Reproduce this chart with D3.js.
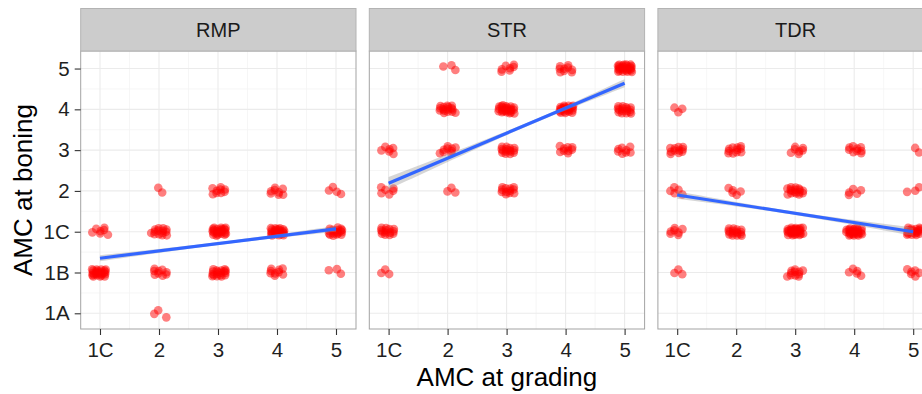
<!DOCTYPE html>
<html>
<head>
<meta charset="utf-8">
<script src="https://cdn.jsdelivr.net/npm/d3@7"></script>
<style>
  body { margin: 0; background: #fff; }
  svg { display: block; }
  text { font-family: "Liberation Sans", Arial, Helvetica, sans-serif; }
</style>
</head>
<body>
<svg id="chart" width="922" height="394"></svg>
<script>
// Facets, axis levels
const facets = ["RMP", "STR", "TDR"];
const gradingLevels = ["1C", "2", "3", "4", "5"];
const boningLevels = ["1A", "1B", "1C", "2", "3", "4", "5"];

// Carcass counts per cell: rows = AMC at boning (1A..5), columns = AMC at grading (1C..5)
const countsRMP = [
  [0, 3, 0, 0, 0],
  [24, 9, 18, 9, 3],
  [7, 14, 24, 24, 18],
  [0, 2, 9, 8, 4],
  [0, 0, 0, 0, 0],
  [0, 0, 0, 0, 0],
  [0, 0, 0, 0, 0]
];
const countsSTR = [
  [0, 0, 0, 0, 0],
  [3, 0, 0, 0, 0],
  [14, 0, 0, 0, 0],
  [6, 3, 12, 0, 0],
  [6, 9, 15, 9, 8],
  [0, 16, 24, 22, 16],
  [0, 3, 7, 9, 26]
];
const countsTDR = [
  [0, 0, 0, 0, 0],
  [3, 0, 11, 5, 6],
  [7, 16, 30, 26, 20],
  [5, 5, 16, 5, 3],
  [11, 11, 7, 9, 2],
  [3, 0, 0, 0, 0],
  [0, 0, 0, 0, 0]
];
const facetCounts = [countsRMP, countsSTR, countsTDR];

// Linear fit of boning on grading (boning scale 1..7), at grading 1C and 5
const fitAtFirst = [2.35, 4.19, 3.90];
const fitAtLast = [3.07, 6.64, 3.00];
// Standard error of the fit at grading 1C, 3 and 5
const seFirst = [0.075, 0.15, 0.09];
const seMid = [0.035, 0.05, 0.04];
const seLast = [0.07, 0.10, 0.10];

// Layout
const panelLeft = 80.7, panelTop = 51;
const panelW = 275.3, panelH = 278, panelStep = 288.6;
const stripTop = 8.5;
const jitterW = 0.27, jitterH = 0.2;

const svg = d3.select("#chart");

const x = d3.scaleLinear().domain([0.673, 5.339]).range([0, panelW]);
const y = d3.scaleLinear().domain([0.615, 7.43]).range([panelH, 0]);

const xMajor = d3.range(1, 6);
const xMinor = d3.range(1.5, 5, 1);
const yMajor = d3.range(1, 8);
const yMinor = d3.range(1.5, 7, 1);

// Quasi-random (R2 sequence) spread used for the jitter of each cell
const phi2 = 1.32471795724474602596;
const r2a = 1 / phi2, r2b = 1 / (phi2 * phi2);
function spread(i) {
  return [((0.5 + r2a * i) % 1) - 0.5, ((0.5 + r2b * i) % 1) - 0.5];
}

facets.forEach((name, fi) => {
  const left = panelLeft + fi * panelStep;
  const g = svg.append("g").attr("transform", `translate(${left},${panelTop})`);

  const clipId = "clip-" + name;
  svg.append("defs").append("clipPath").attr("id", clipId)
    .append("rect").attr("width", panelW).attr("height", panelH);

  g.append("rect").attr("width", panelW).attr("height", panelH).attr("fill", "#fff");

  // grid
  const grid = g.append("g");
  grid.selectAll(".xmin").data(xMinor).join("line")
    .attr("x1", d => x(d)).attr("x2", d => x(d)).attr("y1", 0).attr("y2", panelH)
    .attr("stroke", "#f4f4f4").attr("stroke-width", 0.8);
  grid.selectAll(".ymin").data(yMinor).join("line")
    .attr("y1", d => y(d)).attr("y2", d => y(d)).attr("x1", 0).attr("x2", panelW)
    .attr("stroke", "#f4f4f4").attr("stroke-width", 0.8);
  grid.selectAll(".xmaj").data(xMajor).join("line")
    .attr("x1", d => x(d)).attr("x2", d => x(d)).attr("y1", 0).attr("y2", panelH)
    .attr("stroke", "#ebebeb").attr("stroke-width", 1.1);
  grid.selectAll(".ymaj").data(yMajor).join("line")
    .attr("y1", d => y(d)).attr("y2", d => y(d)).attr("x1", 0).attr("x2", panelW)
    .attr("stroke", "#ebebeb").attr("stroke-width", 1.1);

  const plot = g.append("g").attr("clip-path", `url(#${clipId})`);

  // jittered points
  const pts = [];
  facetCounts[fi].forEach((row, bi) => {
    row.forEach((n, gi) => {
      const seed = (bi * 5 + gi) * 41 + fi * 7;
      for (let k = 0; k < n; k++) {
        const [u, v] = spread(seed + k);
        pts.push({ grading: gi + 1, boning: bi + 1, dx: u * jitterW, dy: v * jitterH });
      }
    });
  });
  plot.append("g").selectAll("circle").data(pts).join("circle")
    .attr("cx", d => x(d.grading + d.dx))
    .attr("cy", d => y(d.boning + d.dy))
    .attr("r", 4.3)
    .attr("fill", "#ff0000")
    .attr("fill-opacity", 0.5);

  // fitted line with standard-error band
  const b0 = fitAtFirst[fi], b1 = fitAtLast[fi];
  const fit = t => b0 + (b1 - b0) * (t - 1) / 4;
  const s1 = seFirst[fi] ** 2, s3 = seMid[fi] ** 2, s5 = seLast[fi] ** 2;
  const se = t => {
    const u = t - 3;
    return Math.sqrt(Math.max(0, s3 + (s5 - s1) / 4 * u + (s5 + s1 - 2 * s3) / 8 * u * u));
  };
  const xs = d3.range(0, 41).map(i => 1 + i * 0.1);
  plot.append("path")
    .datum(xs)
    .attr("d", d3.area().x(t => x(t)).y0(t => y(fit(t) - se(t))).y1(t => y(fit(t) + se(t))))
    .attr("fill", "#999999").attr("fill-opacity", 0.4);
  plot.append("path")
    .datum([1, 5])
    .attr("d", d3.line().x(t => x(t)).y(t => y(fit(t))))
    .attr("stroke", "#3366ff").attr("stroke-width", 3.2).attr("fill", "none");

  // panel border
  g.append("rect").attr("width", panelW).attr("height", panelH)
    .attr("fill", "none").attr("stroke", "#a3a3a3").attr("stroke-width", 1);

  // strip
  const strip = svg.append("g").attr("transform", `translate(${left},${stripTop})`);
  strip.append("rect").attr("width", panelW).attr("height", panelTop - stripTop)
    .attr("fill", "#cccccc").attr("stroke", "#b3b3b3").attr("stroke-width", 1);
  strip.append("text")
    .attr("x", panelW / 2).attr("y", (panelTop - stripTop) / 2)
    .attr("dy", "0.36em")
    .attr("text-anchor", "middle")
    .attr("fill", "#1a1a1a")
    .style("font-size", "20px")
    .text(name);

  // x axis
  const xAxis = d3.axisBottom(x).tickValues(xMajor)
    .tickFormat(d => gradingLevels[d - 1]).tickSize(6).tickPadding(7);
  const xg = g.append("g").attr("transform", `translate(0,${panelH})`).call(xAxis);
  xg.select(".domain").remove();
  xg.selectAll(".tick line").attr("stroke", "#333").attr("stroke-width", 1.1);
  xg.selectAll(".tick text").attr("fill", "#1f1f1f").style("font-size", "20.5px");

  // y axis on the first facet only
  if (fi === 0) {
    const yAxis = d3.axisLeft(y).tickValues(yMajor)
      .tickFormat(d => boningLevels[d - 1]).tickSize(6).tickPadding(5);
    const yg = g.append("g").call(yAxis);
    yg.select(".domain").remove();
    yg.selectAll(".tick line").attr("stroke", "#333").attr("stroke-width", 1.1);
    yg.selectAll(".tick text").attr("fill", "#1f1f1f").style("font-size", "20.5px");
  }
});

// axis titles
svg.append("text")
  .attr("x", panelLeft + panelStep + panelW / 2)
  .attr("y", 386)
  .attr("text-anchor", "middle")
  .attr("fill", "#000")
  .style("font-size", "26px")
  .text("AMC at grading");

svg.append("text")
  .attr("transform", `translate(31.5,${panelTop + panelH / 2}) rotate(-90)`)
  .attr("text-anchor", "middle")
  .attr("fill", "#000")
  .style("font-size", "26px")
  .text("AMC at boning");
</script>
</body>
</html>
